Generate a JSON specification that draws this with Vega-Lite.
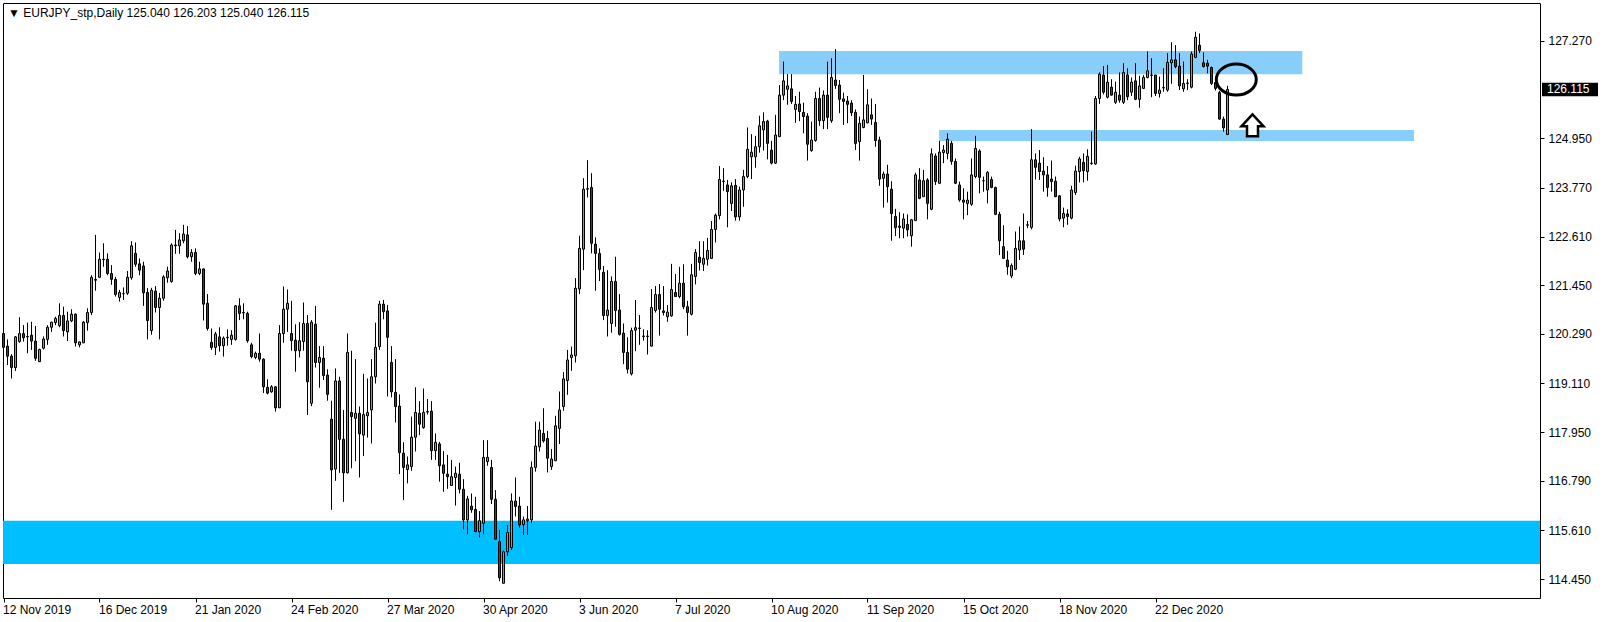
{
"$schema": "https://vega.github.io/schema/vega-lite/v6.json",
"width": 1537, "height": 595,
"autosize": {"type": "none"},
"padding": {"left": 3, "top": 3, "right": 64, "bottom": 24},
"background": "#ffffff",
"config": {"view": {"stroke": "#000000", "strokeWidth": 1}, "font": "Liberation Sans"},
"title": {"text": "▼ EURJPY_stp,Daily  125.040 126.203 125.040 126.115", "anchor": "start", "frame": "group", "orient": "top", "offset": -17, "dx": 5, "font": "Liberation Sans", "fontSize": 12, "fontWeight": "normal", "color": "#000000"},
"datasets": {
"zones": [
{"i": -0.125, "i2": 384.125, "lo": 114.81, "hi": 115.84, "kind": "lower"},
{"i": 193.9, "i2": 324.7, "lo": 126.48, "hi": 127.03, "kind": "upper"},
{"i": 233.9, "i2": 352.6, "lo": 124.89, "hi": 125.15, "kind": "upper"}
],
"candles": [
{"i":0,"o":120.30,"h":120.65,"l":119.95,"c":119.97},
{"i":1,"o":120.00,"h":120.16,"l":119.55,"c":119.76},
{"i":2,"o":119.76,"h":119.81,"l":119.23,"c":119.49},
{"i":3,"o":119.49,"h":120.24,"l":119.41,"c":120.22},
{"i":4,"o":120.11,"h":120.69,"l":120.08,"c":120.30},
{"i":5,"o":120.30,"h":120.50,"l":120.11,"c":120.20},
{"i":6,"o":120.23,"h":120.56,"l":119.83,"c":120.22},
{"i":7,"o":120.26,"h":120.58,"l":119.91,"c":120.12},
{"i":8,"o":120.12,"h":120.48,"l":119.65,"c":119.71},
{"i":9,"o":119.63,"h":119.94,"l":119.62,"c":119.92},
{"i":10,"o":119.95,"h":120.23,"l":119.92,"c":120.17},
{"i":11,"o":120.16,"h":120.50,"l":120.03,"c":120.45},
{"i":12,"o":120.45,"h":120.58,"l":120.34,"c":120.57},
{"i":13,"o":120.56,"h":120.70,"l":120.50,"c":120.66},
{"i":14,"o":120.49,"h":121.02,"l":120.45,"c":120.73},
{"i":15,"o":120.73,"h":120.94,"l":120.23,"c":120.37},
{"i":16,"o":120.34,"h":120.82,"l":120.12,"c":120.60},
{"i":17,"o":120.60,"h":120.88,"l":120.57,"c":120.76},
{"i":18,"o":120.76,"h":120.78,"l":119.99,"c":120.08},
{"i":19,"o":120.03,"h":120.11,"l":119.97,"c":120.10},
{"i":20,"o":120.08,"h":120.60,"l":120.07,"c":120.57},
{"i":21,"o":120.56,"h":120.90,"l":120.37,"c":120.80},
{"i":22,"o":120.80,"h":121.69,"l":120.74,"c":121.64},
{"i":23,"o":121.59,"h":122.65,"l":121.32,"c":121.57},
{"i":24,"o":121.64,"h":122.23,"l":121.62,"c":122.07},
{"i":25,"o":122.07,"h":122.45,"l":121.89,"c":122.06},
{"i":26,"o":122.07,"h":122.21,"l":121.69,"c":121.73},
{"i":27,"o":121.73,"h":121.93,"l":121.46,"c":121.59},
{"i":28,"o":121.59,"h":121.65,"l":121.18,"c":121.23},
{"i":29,"o":121.16,"h":121.34,"l":121.06,"c":121.28},
{"i":30,"o":121.25,"h":121.40,"l":121.10,"c":121.25},
{"i":31,"o":121.26,"h":121.79,"l":121.22,"c":121.64},
{"i":32,"o":121.63,"h":122.50,"l":121.58,"c":122.39},
{"i":33,"o":122.21,"h":122.47,"l":121.89,"c":121.95},
{"i":34,"o":121.96,"h":122.09,"l":121.69,"c":121.81},
{"i":35,"o":121.91,"h":122.01,"l":120.96,"c":121.27},
{"i":36,"o":121.28,"h":121.38,"l":120.16,"c":120.61},
{"i":37,"o":120.37,"h":121.39,"l":120.27,"c":121.33},
{"i":38,"o":121.31,"h":121.43,"l":120.80,"c":120.92},
{"i":39,"o":120.92,"h":121.27,"l":120.16,"c":121.14},
{"i":40,"o":121.14,"h":121.69,"l":121.08,"c":121.65},
{"i":41,"o":121.63,"h":121.89,"l":121.51,"c":121.79},
{"i":42,"o":121.54,"h":122.45,"l":121.51,"c":122.41},
{"i":43,"o":122.41,"h":122.77,"l":122.20,"c":122.39},
{"i":44,"o":122.39,"h":122.69,"l":122.20,"c":122.53},
{"i":45,"o":122.51,"h":122.89,"l":122.45,"c":122.67},
{"i":46,"o":122.65,"h":122.86,"l":122.09,"c":122.13},
{"i":47,"o":122.13,"h":122.31,"l":122.01,"c":122.23},
{"i":48,"o":122.23,"h":122.33,"l":121.69,"c":121.73},
{"i":49,"o":121.73,"h":122.01,"l":121.69,"c":121.84},
{"i":50,"o":121.84,"h":121.85,"l":120.61,"c":121.00},
{"i":51,"o":121.02,"h":121.24,"l":120.37,"c":120.42},
{"i":52,"o":120.09,"h":120.42,"l":119.91,"c":119.97},
{"i":53,"o":119.97,"h":120.34,"l":119.79,"c":120.29},
{"i":54,"o":120.22,"h":120.45,"l":119.87,"c":120.01},
{"i":55,"o":120.01,"h":120.23,"l":119.75,"c":120.19},
{"i":56,"o":120.20,"h":120.40,"l":120.01,"c":120.21},
{"i":57,"o":120.16,"h":120.38,"l":120.03,"c":120.26},
{"i":58,"o":120.16,"h":120.98,"l":120.13,"c":120.96},
{"i":59,"o":120.96,"h":121.14,"l":120.62,"c":120.78},
{"i":60,"o":120.80,"h":121.02,"l":120.64,"c":120.79},
{"i":61,"o":120.78,"h":120.82,"l":120.08,"c":120.13},
{"i":62,"o":120.03,"h":120.08,"l":119.71,"c":119.75},
{"i":63,"o":119.73,"h":119.87,"l":119.69,"c":119.83},
{"i":64,"o":119.83,"h":120.30,"l":119.63,"c":119.69},
{"i":65,"o":119.69,"h":119.71,"l":118.88,"c":119.03},
{"i":66,"o":119.02,"h":119.21,"l":118.85,"c":118.88},
{"i":67,"o":118.91,"h":119.07,"l":118.89,"c":119.03},
{"i":68,"o":119.03,"h":119.05,"l":118.44,"c":118.53},
{"i":69,"o":118.53,"h":120.50,"l":118.53,"c":120.30},
{"i":70,"o":120.30,"h":121.42,"l":120.08,"c":120.88},
{"i":71,"o":120.88,"h":121.35,"l":120.34,"c":121.02},
{"i":72,"o":120.30,"h":121.08,"l":119.89,"c":120.13},
{"i":73,"o":120.14,"h":120.52,"l":119.39,"c":119.89},
{"i":74,"o":119.89,"h":120.57,"l":119.73,"c":120.13},
{"i":75,"o":120.11,"h":121.04,"l":119.89,"c":120.54},
{"i":76,"o":120.54,"h":120.74,"l":118.36,"c":119.15},
{"i":77,"o":118.64,"h":120.62,"l":118.57,"c":120.57},
{"i":78,"o":120.52,"h":120.96,"l":119.49,"c":119.61},
{"i":79,"o":119.61,"h":120.00,"l":119.01,"c":119.73},
{"i":80,"o":119.71,"h":120.00,"l":119.19,"c":119.30},
{"i":81,"o":119.31,"h":119.45,"l":118.70,"c":118.85},
{"i":82,"o":118.26,"h":118.70,"l":116.10,"c":117.05},
{"i":83,"o":117.07,"h":119.47,"l":116.79,"c":119.17},
{"i":84,"o":119.17,"h":119.27,"l":116.98,"c":117.78},
{"i":85,"o":117.78,"h":118.48,"l":116.29,"c":116.98},
{"i":86,"o":116.98,"h":120.30,"l":116.97,"c":119.85},
{"i":87,"o":118.42,"h":119.89,"l":117.09,"c":118.32},
{"i":88,"o":118.28,"h":119.69,"l":117.26,"c":118.40},
{"i":89,"o":118.40,"h":118.56,"l":116.87,"c":117.91},
{"i":90,"o":117.88,"h":119.34,"l":117.38,"c":118.37},
{"i":91,"o":118.34,"h":119.23,"l":117.82,"c":118.42},
{"i":92,"o":118.48,"h":119.69,"l":117.68,"c":119.27},
{"i":93,"o":119.27,"h":120.56,"l":119.11,"c":119.97},
{"i":94,"o":119.99,"h":121.08,"l":119.91,"c":121.00},
{"i":95,"o":121.00,"h":121.10,"l":120.64,"c":120.82},
{"i":96,"o":120.84,"h":120.98,"l":118.80,"c":120.21},
{"i":97,"o":119.61,"h":120.00,"l":118.78,"c":118.91},
{"i":98,"o":118.90,"h":119.69,"l":118.18,"c":118.56},
{"i":99,"o":118.57,"h":118.85,"l":116.95,"c":117.46},
{"i":100,"o":117.45,"h":117.71,"l":116.33,"c":117.11},
{"i":101,"o":117.06,"h":117.37,"l":116.73,"c":117.17},
{"i":102,"o":117.13,"h":118.32,"l":117.03,"c":117.83},
{"i":103,"o":117.83,"h":119.02,"l":117.49,"c":118.42},
{"i":104,"o":118.40,"h":118.69,"l":117.88,"c":118.14},
{"i":105,"o":118.06,"h":118.99,"l":118.03,"c":118.42},
{"i":106,"o":118.44,"h":118.74,"l":118.37,"c":118.43},
{"i":107,"o":118.45,"h":118.69,"l":117.29,"c":117.51},
{"i":108,"o":117.51,"h":117.92,"l":117.29,"c":117.71},
{"i":109,"o":117.67,"h":117.72,"l":116.77,"c":117.15},
{"i":110,"o":117.17,"h":117.50,"l":116.53,"c":116.97},
{"i":111,"o":116.95,"h":117.41,"l":116.60,"c":116.89},
{"i":112,"o":116.68,"h":117.29,"l":116.68,"c":116.89},
{"i":113,"o":116.87,"h":117.13,"l":116.20,"c":116.97},
{"i":114,"o":116.95,"h":117.22,"l":116.49,"c":116.59},
{"i":115,"o":116.59,"h":116.83,"l":115.63,"c":115.86},
{"i":116,"o":115.86,"h":116.43,"l":115.52,"c":116.36},
{"i":117,"o":116.19,"h":116.49,"l":116.03,"c":116.10},
{"i":118,"o":116.11,"h":116.41,"l":115.58,"c":115.58},
{"i":119,"o":115.58,"h":116.07,"l":115.44,"c":115.84},
{"i":120,"o":115.78,"h":117.76,"l":115.52,"c":117.35},
{"i":121,"o":117.25,"h":117.76,"l":117.15,"c":117.35},
{"i":122,"o":117.11,"h":117.29,"l":116.24,"c":116.35},
{"i":123,"o":116.35,"h":116.57,"l":115.40,"c":115.40},
{"i":124,"o":115.34,"h":115.62,"l":114.40,"c":114.48},
{"i":125,"o":114.35,"h":115.13,"l":114.35,"c":115.10},
{"i":126,"o":115.10,"h":115.74,"l":115.00,"c":115.56},
{"i":127,"o":115.20,"h":116.49,"l":115.14,"c":116.31},
{"i":128,"o":116.31,"h":116.87,"l":115.94,"c":116.18},
{"i":129,"o":116.19,"h":116.41,"l":115.67,"c":115.74},
{"i":130,"o":115.75,"h":115.94,"l":115.50,"c":115.86},
{"i":131,"o":115.84,"h":116.19,"l":115.50,"c":115.88},
{"i":132,"o":115.86,"h":117.25,"l":115.78,"c":117.11},
{"i":133,"o":117.11,"h":118.20,"l":117.01,"c":117.62},
{"i":134,"o":117.60,"h":118.20,"l":117.49,"c":118.00},
{"i":135,"o":117.92,"h":118.52,"l":117.70,"c":117.74},
{"i":136,"o":117.80,"h":117.98,"l":116.99,"c":117.33},
{"i":137,"o":117.13,"h":117.55,"l":117.05,"c":117.31},
{"i":138,"o":117.27,"h":118.34,"l":117.26,"c":118.10},
{"i":139,"o":118.04,"h":118.92,"l":117.67,"c":118.48},
{"i":140,"o":118.56,"h":119.38,"l":118.46,"c":119.22},
{"i":141,"o":119.18,"h":119.91,"l":118.84,"c":119.67},
{"i":142,"o":119.73,"h":119.99,"l":119.41,"c":119.79},
{"i":143,"o":119.77,"h":121.62,"l":119.61,"c":121.38},
{"i":144,"o":121.36,"h":122.63,"l":121.24,"c":122.33},
{"i":145,"o":122.31,"h":124.00,"l":121.81,"c":123.74},
{"i":146,"o":123.74,"h":124.43,"l":123.54,"c":123.75},
{"i":147,"o":123.78,"h":124.12,"l":122.21,"c":122.45},
{"i":148,"o":122.43,"h":122.59,"l":121.32,"c":122.21},
{"i":149,"o":122.21,"h":122.33,"l":121.55,"c":121.83},
{"i":150,"o":121.76,"h":121.91,"l":120.62,"c":120.73},
{"i":151,"o":120.73,"h":121.81,"l":120.23,"c":120.86},
{"i":152,"o":120.54,"h":121.66,"l":120.32,"c":121.54},
{"i":153,"o":121.54,"h":122.13,"l":120.46,"c":120.85},
{"i":154,"o":120.86,"h":121.24,"l":120.25,"c":120.28},
{"i":155,"o":120.31,"h":120.54,"l":119.57,"c":119.85},
{"i":156,"o":119.85,"h":120.21,"l":119.35,"c":119.45},
{"i":157,"o":119.34,"h":120.44,"l":119.30,"c":120.37},
{"i":158,"o":120.38,"h":121.10,"l":119.88,"c":120.44},
{"i":159,"o":120.42,"h":120.74,"l":120.03,"c":120.43},
{"i":160,"o":120.23,"h":120.40,"l":120.13,"c":120.24},
{"i":161,"o":120.24,"h":120.38,"l":119.80,"c":120.23},
{"i":162,"o":120.00,"h":121.36,"l":119.99,"c":120.92},
{"i":163,"o":120.85,"h":121.43,"l":120.80,"c":121.23},
{"i":164,"o":121.23,"h":121.48,"l":120.25,"c":120.88},
{"i":165,"o":120.84,"h":121.43,"l":120.73,"c":120.80},
{"i":166,"o":120.70,"h":120.98,"l":120.58,"c":120.81},
{"i":167,"o":120.72,"h":121.96,"l":120.70,"c":121.35},
{"i":168,"o":121.28,"h":121.72,"l":121.18,"c":121.18},
{"i":169,"o":121.18,"h":121.89,"l":121.14,"c":121.50},
{"i":170,"o":121.50,"h":121.95,"l":120.88,"c":120.94},
{"i":171,"o":120.94,"h":121.08,"l":120.25,"c":120.80},
{"i":172,"o":120.76,"h":121.96,"l":120.73,"c":121.70},
{"i":173,"o":121.66,"h":122.31,"l":121.47,"c":122.23},
{"i":174,"o":122.12,"h":122.50,"l":121.80,"c":121.99},
{"i":175,"o":121.95,"h":122.50,"l":121.79,"c":122.09},
{"i":176,"o":122.07,"h":122.58,"l":121.92,"c":122.28},
{"i":177,"o":122.09,"h":122.98,"l":122.08,"c":122.78},
{"i":178,"o":122.78,"h":123.16,"l":122.47,"c":123.12},
{"i":179,"o":123.11,"h":124.29,"l":123.02,"c":123.97},
{"i":180,"o":123.93,"h":124.24,"l":123.70,"c":123.92},
{"i":181,"o":123.84,"h":123.96,"l":122.83,"c":123.68},
{"i":182,"o":123.40,"h":123.90,"l":123.22,"c":123.82},
{"i":183,"o":123.83,"h":123.98,"l":122.99,"c":123.08},
{"i":184,"o":123.08,"h":123.80,"l":122.99,"c":123.72},
{"i":185,"o":123.72,"h":124.20,"l":123.32,"c":124.04},
{"i":186,"o":124.04,"h":125.21,"l":124.00,"c":124.69},
{"i":187,"o":124.51,"h":125.05,"l":123.98,"c":124.62},
{"i":188,"o":124.51,"h":125.01,"l":124.25,"c":124.75},
{"i":189,"o":124.75,"h":125.49,"l":124.61,"c":125.25},
{"i":190,"o":125.15,"h":125.57,"l":124.66,"c":125.35},
{"i":191,"o":125.36,"h":125.39,"l":124.45,"c":124.83},
{"i":192,"o":124.67,"h":124.89,"l":124.33,"c":124.36},
{"i":193,"o":124.36,"h":125.51,"l":124.34,"c":125.03},
{"i":194,"o":124.99,"h":126.22,"l":124.98,"c":125.98},
{"i":195,"o":125.98,"h":126.78,"l":125.86,"c":126.32},
{"i":196,"o":126.12,"h":126.48,"l":125.75,"c":126.20},
{"i":197,"o":126.13,"h":126.48,"l":125.77,"c":125.83},
{"i":198,"o":125.64,"h":125.96,"l":125.32,"c":125.76},
{"i":199,"o":125.77,"h":126.06,"l":125.36,"c":125.59},
{"i":200,"o":125.57,"h":125.80,"l":125.07,"c":125.47},
{"i":201,"o":125.48,"h":125.55,"l":124.42,"c":124.81},
{"i":202,"o":124.66,"h":125.35,"l":124.63,"c":124.91},
{"i":203,"o":124.90,"h":126.06,"l":124.87,"c":125.90},
{"i":204,"o":125.90,"h":126.16,"l":125.25,"c":125.37},
{"i":205,"o":125.37,"h":126.09,"l":125.17,"c":125.98},
{"i":206,"o":125.98,"h":126.78,"l":125.17,"c":125.45},
{"i":207,"o":125.37,"h":126.86,"l":125.32,"c":126.40},
{"i":208,"o":126.34,"h":127.08,"l":126.13,"c":126.21},
{"i":209,"o":126.22,"h":126.34,"l":125.55,"c":125.88},
{"i":210,"o":125.89,"h":126.04,"l":125.27,"c":125.83},
{"i":211,"o":125.84,"h":125.96,"l":125.31,"c":125.76},
{"i":212,"o":125.79,"h":125.86,"l":125.48,"c":125.56},
{"i":213,"o":125.57,"h":125.64,"l":124.67,"c":124.83},
{"i":214,"o":124.87,"h":125.47,"l":124.42,"c":125.31},
{"i":215,"o":125.21,"h":126.46,"l":125.19,"c":125.39},
{"i":216,"o":125.32,"h":126.12,"l":125.31,"c":125.75},
{"i":217,"o":125.51,"h":125.90,"l":125.27,"c":125.41},
{"i":218,"o":125.33,"h":125.77,"l":124.75,"c":124.90},
{"i":219,"o":124.91,"h":124.99,"l":123.82,"c":123.98},
{"i":220,"o":124.00,"h":124.16,"l":123.30,"c":124.10},
{"i":221,"o":124.10,"h":124.32,"l":123.42,"c":123.80},
{"i":222,"o":123.74,"h":123.93,"l":122.51,"c":123.16},
{"i":223,"o":123.09,"h":123.27,"l":122.62,"c":122.82},
{"i":224,"o":122.86,"h":123.19,"l":122.57,"c":122.83},
{"i":225,"o":122.81,"h":123.16,"l":122.57,"c":123.03},
{"i":226,"o":122.90,"h":123.14,"l":122.61,"c":122.77},
{"i":227,"o":122.63,"h":123.03,"l":122.37,"c":123.01},
{"i":228,"o":122.99,"h":124.13,"l":122.99,"c":124.08},
{"i":229,"o":123.96,"h":124.24,"l":123.50,"c":123.52},
{"i":230,"o":123.56,"h":124.20,"l":123.55,"c":123.94},
{"i":231,"o":123.96,"h":124.00,"l":123.02,"c":123.40},
{"i":232,"o":123.26,"h":124.71,"l":123.24,"c":124.58},
{"i":233,"o":124.53,"h":124.59,"l":123.84,"c":123.92},
{"i":234,"o":123.88,"h":124.89,"l":123.86,"c":124.62},
{"i":235,"o":124.61,"h":124.79,"l":124.36,"c":124.67},
{"i":236,"o":124.59,"h":125.07,"l":124.45,"c":124.93},
{"i":237,"o":124.83,"h":124.89,"l":124.32,"c":124.40},
{"i":238,"o":124.40,"h":124.47,"l":123.86,"c":123.88},
{"i":239,"o":123.84,"h":123.92,"l":123.44,"c":123.48},
{"i":240,"o":123.48,"h":123.76,"l":123.02,"c":123.43},
{"i":241,"o":123.40,"h":123.68,"l":123.12,"c":123.48},
{"i":242,"o":123.38,"h":124.47,"l":123.34,"c":124.08},
{"i":243,"o":124.04,"h":125.01,"l":124.00,"c":124.71},
{"i":244,"o":124.65,"h":124.69,"l":123.64,"c":124.02},
{"i":245,"o":123.94,"h":124.04,"l":123.68,"c":123.94},
{"i":246,"o":123.72,"h":124.17,"l":123.40,"c":124.14},
{"i":247,"o":123.97,"h":124.04,"l":123.76,"c":123.78},
{"i":248,"o":123.78,"h":123.80,"l":123.12,"c":123.14},
{"i":249,"o":123.14,"h":123.20,"l":122.17,"c":122.51},
{"i":250,"o":122.37,"h":122.88,"l":122.08,"c":122.09},
{"i":251,"o":122.05,"h":122.27,"l":121.70,"c":121.89},
{"i":252,"o":121.67,"h":121.97,"l":121.62,"c":121.92},
{"i":253,"o":121.83,"h":122.73,"l":121.81,"c":122.33},
{"i":254,"o":122.29,"h":122.85,"l":122.05,"c":122.51},
{"i":255,"o":122.51,"h":123.16,"l":122.17,"c":122.31},
{"i":256,"o":122.88,"h":122.98,"l":122.81,"c":122.89},
{"i":257,"o":122.83,"h":125.17,"l":122.78,"c":124.44},
{"i":258,"o":124.44,"h":124.59,"l":123.97,"c":124.26},
{"i":259,"o":124.36,"h":124.67,"l":123.96,"c":124.16},
{"i":260,"o":124.17,"h":124.50,"l":123.68,"c":124.08},
{"i":261,"o":124.08,"h":124.29,"l":123.56,"c":123.78},
{"i":262,"o":123.98,"h":124.42,"l":123.68,"c":123.92},
{"i":263,"o":123.93,"h":124.04,"l":123.55,"c":123.56},
{"i":264,"o":123.58,"h":123.60,"l":122.97,"c":123.03},
{"i":265,"o":123.05,"h":123.30,"l":122.83,"c":123.16},
{"i":266,"o":123.15,"h":123.26,"l":122.89,"c":123.09},
{"i":267,"o":123.05,"h":123.82,"l":123.02,"c":123.72},
{"i":268,"o":123.66,"h":124.30,"l":123.60,"c":124.17},
{"i":269,"o":124.16,"h":124.51,"l":123.90,"c":124.46},
{"i":270,"o":124.38,"h":124.59,"l":123.90,"c":124.18},
{"i":271,"o":124.16,"h":124.69,"l":123.94,"c":124.52},
{"i":272,"o":124.36,"h":125.11,"l":124.32,"c":124.35},
{"i":273,"o":124.34,"h":125.96,"l":124.32,"c":125.90},
{"i":274,"o":125.90,"h":126.52,"l":125.77,"c":126.48},
{"i":275,"o":126.46,"h":126.67,"l":126.00,"c":126.05},
{"i":276,"o":125.93,"h":126.70,"l":125.90,"c":126.29},
{"i":277,"o":126.17,"h":126.36,"l":125.97,"c":125.98},
{"i":278,"o":125.81,"h":126.30,"l":125.77,"c":126.05},
{"i":279,"o":125.98,"h":126.52,"l":125.80,"c":125.86},
{"i":280,"o":125.81,"h":126.74,"l":125.77,"c":126.52},
{"i":281,"o":126.46,"h":126.62,"l":125.86,"c":125.94},
{"i":282,"o":126.05,"h":126.40,"l":125.96,"c":126.29},
{"i":283,"o":126.32,"h":126.74,"l":125.86,"c":125.88},
{"i":284,"o":125.88,"h":126.44,"l":125.68,"c":126.20},
{"i":285,"o":126.14,"h":126.46,"l":126.13,"c":126.40},
{"i":286,"o":126.40,"h":127.02,"l":126.38,"c":126.56},
{"i":287,"o":126.46,"h":126.86,"l":125.93,"c":126.45},
{"i":288,"o":126.46,"h":126.46,"l":125.96,"c":126.02},
{"i":289,"o":126.02,"h":126.42,"l":125.92,"c":126.10},
{"i":290,"o":126.15,"h":126.62,"l":126.06,"c":126.16},
{"i":291,"o":126.10,"h":126.98,"l":126.06,"c":126.76},
{"i":292,"o":126.75,"h":127.24,"l":126.25,"c":126.82},
{"i":293,"o":126.82,"h":127.17,"l":126.62,"c":126.66},
{"i":294,"o":126.67,"h":126.98,"l":126.10,"c":126.20},
{"i":295,"o":126.13,"h":126.78,"l":126.06,"c":126.26},
{"i":296,"o":126.26,"h":126.36,"l":126.10,"c":126.27},
{"i":297,"o":126.17,"h":127.02,"l":126.14,"c":126.96},
{"i":298,"o":126.88,"h":127.49,"l":126.86,"c":127.36},
{"i":299,"o":127.17,"h":127.45,"l":126.98,"c":127.04},
{"i":300,"o":126.75,"h":127.00,"l":126.64,"c":126.66},
{"i":301,"o":126.74,"h":126.82,"l":126.50,"c":126.67},
{"i":302,"o":126.64,"h":126.66,"l":126.22,"c":126.26},
{"i":303,"o":126.28,"h":126.42,"l":126.09,"c":126.14},
{"i":304,"o":126.04,"h":126.08,"l":125.39,"c":125.41},
{"i":305,"o":125.41,"h":125.47,"l":125.11,"c":125.20},
{"i":306,"o":125.04,"h":126.203,"l":125.04,"c":126.115}
],
"ellipse": [{"i": 308.2, "p": 126.35}],
"arrow": [{"i": 312.25, "p": 125.26}],
"price": [{"i": 384.125, "p": 126.115}]
},
"layer": [
{
"data": {"name": "zones"},
"mark": {"type": "rect"},
"encoding": {
"x": {"field": "i", "type": "quantitative", "scale": {"domain": [-0.125, 384.125], "nice": false, "zero": false, "padding": 0},
 "axis": {"orient": "bottom", "title": null, "values": [0,24,48,72,96,120,144,168,192,216,240,264,288], "labelExpr": "['12 Nov 2019','16 Dec 2019','21 Jan 2020','24 Feb 2020','27 Mar 2020','30 Apr 2020','3 Jun 2020','7 Jul 2020','10 Aug 2020','11 Sep 2020','15 Oct 2020','18 Nov 2020','22 Dec 2020'][round(datum.value/24)]", "labelAlign": "left", "labelBaseline": "top", "labelOffset": -1, "labelPadding": 2, "tickSize": 4, "tickColor": "#000000", "tickWidth": 1, "domain": false, "grid": false, "labelFont": "Liberation Sans", "labelFontSize": 12, "labelColor": "#000000", "labelFlush": false, "labelOverlap": false, "labelBound": false}},
"x2": {"field": "i2"},
"y": {"field": "lo", "type": "quantitative", "scale": {"domain": [113.999, 128.175], "nice": false, "zero": false, "padding": 0},
 "axis": {"orient": "right", "title": null, "values": [127.27, 124.95, 123.77, 122.61, 121.45, 120.29, 119.11, 117.95, 116.79, 115.61, 114.45], "format": ".3f", "tickSize": 4, "labelPadding": 4, "tickColor": "#000000", "tickWidth": 1, "domain": false, "grid": false, "labelFont": "Liberation Sans", "labelFontSize": 12, "labelColor": "#000000", "labelOverlap": false, "labelFlush": false, "labelBound": false}},
"y2": {"field": "hi"},
"color": {"field": "kind", "type": "nominal", "scale": {"domain": ["upper", "lower"], "range": ["#87CEFA", "#00BFFF"]}, "legend": null}
}
},
{
"data": {"name": "candles"},
"mark": {"type": "rule", "color": "#000000", "strokeWidth": 1},
"encoding": {
"x": {"field": "i", "type": "quantitative", "scale": {"domain": [-0.125, 384.125], "nice": false, "zero": false, "padding": 0}, "axis": {"title": null}},
"y": {"field": "l", "type": "quantitative", "scale": {"domain": [113.999, 128.175], "nice": false, "zero": false, "padding": 0}, "axis": {"title": null}},
"y2": {"field": "h"}
}
},
{
"data": {"name": "candles"},
"mark": {"type": "bar", "width": 2, "stroke": "#000000", "strokeWidth": 1},
"encoding": {
"x": {"field": "i", "type": "quantitative", "scale": {"domain": [-0.125, 384.125], "nice": false, "zero": false, "padding": 0}, "axis": {"title": null}},
"y": {"field": "o", "type": "quantitative", "scale": {"domain": [113.999, 128.175], "nice": false, "zero": false, "padding": 0}, "axis": {"title": null}},
"y2": {"field": "c"},
"fill": {"condition": {"test": "datum.c >= datum.o", "value": "#22e622"}, "value": "#dd0000"}
}
},
{
"data": {"name": "ellipse"},
"mark": {"type": "point", "shape": "M-1,0 A1,0.775 0 1,1 1,0 A1,0.775 0 1,1 -1,0 Z", "size": 1600, "filled": false, "stroke": "#000000", "strokeWidth": 3, "opacity": 1},
"encoding": {
"x": {"field": "i", "type": "quantitative", "scale": {"domain": [-0.125, 384.125], "nice": false, "zero": false, "padding": 0}, "axis": {"title": null}},
"y": {"field": "p", "type": "quantitative", "scale": {"domain": [113.999, 128.175], "nice": false, "zero": false, "padding": 0}, "axis": {"title": null}}
}
},
{
"data": {"name": "arrow"},
"mark": {"type": "point", "shape": "M0,-1 L1,0.08 L0.5,0.08 L0.5,1 L-0.5,1 L-0.5,0.08 L-1,0.08 Z", "size": 484, "filled": true, "fill": "#ffffff", "stroke": "#000000", "strokeWidth": 2.5, "opacity": 1},
"encoding": {
"x": {"field": "i", "type": "quantitative", "scale": {"domain": [-0.125, 384.125], "nice": false, "zero": false, "padding": 0}, "axis": {"title": null}},
"y": {"field": "p", "type": "quantitative", "scale": {"domain": [113.999, 128.175], "nice": false, "zero": false, "padding": 0}, "axis": {"title": null}}
}
},
{
"data": {"name": "price"},
"mark": {"type": "point", "shape": "M-1,-0.24 L1,-0.24 L1,0.24 L-1,0.24 Z", "size": 3136, "filled": true, "fill": "#000000", "strokeWidth": 0, "opacity": 1, "xOffset": 30},
"encoding": {
"x": {"field": "i", "type": "quantitative", "scale": {"domain": [-0.125, 384.125], "nice": false, "zero": false, "padding": 0}, "axis": {"title": null}},
"y": {"field": "p", "type": "quantitative", "scale": {"domain": [113.999, 128.175], "nice": false, "zero": false, "padding": 0}, "axis": {"title": null}}
}
},
{
"data": {"name": "price"},
"mark": {"type": "text", "align": "left", "baseline": "middle", "dx": 7, "font": "Liberation Sans", "fontSize": 12, "color": "#ffffff"},
"encoding": {
"x": {"field": "i", "type": "quantitative", "scale": {"domain": [-0.125, 384.125], "nice": false, "zero": false, "padding": 0}, "axis": {"title": null}},
"y": {"field": "p", "type": "quantitative", "scale": {"domain": [113.999, 128.175], "nice": false, "zero": false, "padding": 0}, "axis": {"title": null}},
"text": {"field": "p", "type": "quantitative", "format": ".3f"}
}
}
]
}
